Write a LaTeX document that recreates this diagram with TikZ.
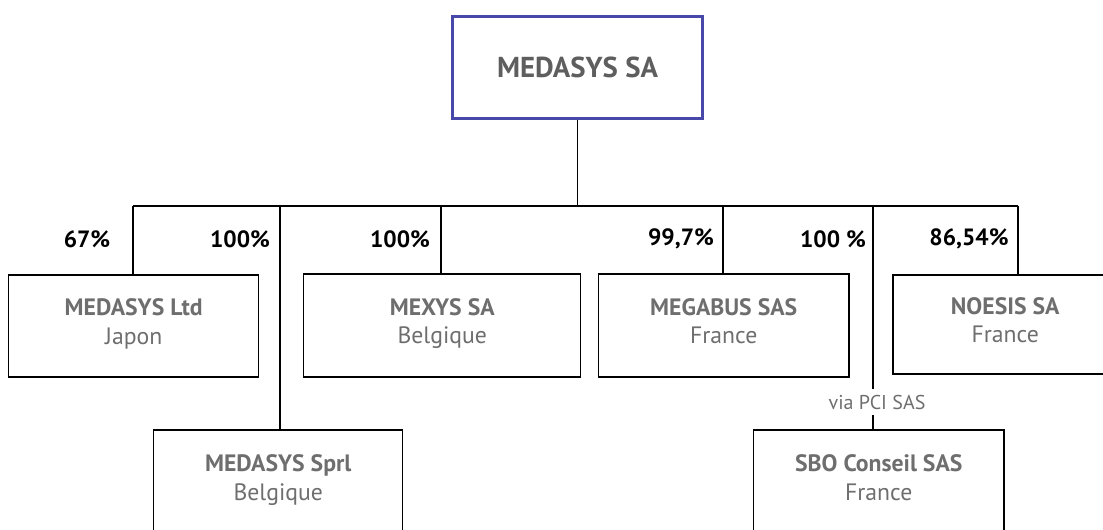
\documentclass[tikz,border=0pt]{standalone}
\usepackage{fontspec}
\setmainfont{PT Sans}
\definecolor{boxblue}{HTML}{4848A8}
\definecolor{txtgray}{HTML}{6E6E6E}
\begin{document}
\begin{tikzpicture}[x=0.02cm,y=-0.02cm,
  company/.style={draw=black,line width=0.85pt,anchor=north west,inner sep=0pt,
    align=center,text=txtgray,font=\fontsize{13.5}{16}\selectfont,
    execute at end node=\strut},
  pct/.style={font=\fontsize{13.4}{15}\selectfont\bfseries},
  link/.style={line width=0.7pt}]
\useasboundingbox (0,0) rectangle (1103,529);
%\small
\node[draw=boxblue,line width=1.7pt,minimum width=250*0.02cm,minimum height=102*0.02cm,
  anchor=north west,text=txtgray!85!black,font=\fontsize{16.4}{18}\selectfont\bfseries]
  (medasys) at (451,15) {MEDASYS SA};
% filiales
\node[company,minimum width=250*0.02cm,minimum height=102*0.02cm] (ltd) at (8,274)
  {\textbf{MEDASYS Ltd}\\Japon};
\node[company,minimum width=277*0.02cm,minimum height=103*0.02cm] (mexys) at (303,273)
  {\textbf{MEXYS SA}\\Belgique};
\node[company,minimum width=250*0.02cm,minimum height=103*0.02cm] (megabus) at (598,273)
  {\textbf{MEGABUS SAS}\\France};
\node[company,minimum width=225*0.02cm,minimum height=99*0.02cm] (noesis) at (892,274)
  {\textbf{NOESIS SA}\\France};
\node[company,minimum width=249*0.02cm,minimum height=104*0.02cm] (sprl) at (153,429)
  {\textbf{MEDASYS Sprl}\\Belgique};
\node[company,minimum width=250*0.02cm,minimum height=104*0.02cm] (sbo) at (753,429)
  {\textbf{SBO Conseil SAS}\\France};
\node[text=txtgray,font=\fontsize{11.4}{13}\selectfont] (via) at (877,402) {via PCI SAS};
% barre
\coordinate(b1) at (133,206);
\coordinate(b2) at (280,206);
\coordinate(b3) at (441,206);
\coordinate(b4) at (723,206);
\coordinate(b5) at (873,206);
\coordinate(b6) at (1018,206);
\draw [link] (medasys.south) -- (medasys.south |- b1);
\draw [link] (b1) -- (b6);
\draw [link] (b1) -- (b1 |- ltd.north);
\draw [link] (b2) -- (b2 |- sprl.north);
\draw [link] (b3) -- (b3 |- mexys.north);
\draw [link] (b4) -- (b4 |- megabus.north);
\draw [link] (b5) -- (b5 |- via.north);
\draw [link] (b5 |- via.south) -- (b5 |- sbo.north);
\draw [link] (b6) -- (b6 |- noesis.north);
% pourcentages
\node[pct] (p1) at (87,239) {67\%};
\node[pct] (p2) at (240,239) {100\%};
\node[pct] (p3) at (400,239) {100\%};
\node[pct] (p4) at (681,239) {99,7\%};
\node[pct] (p5) at (833,239) {100 \%};
\node[pct] (p6) at (969,239) {86,54\%};
\end{tikzpicture}
\end{document}
